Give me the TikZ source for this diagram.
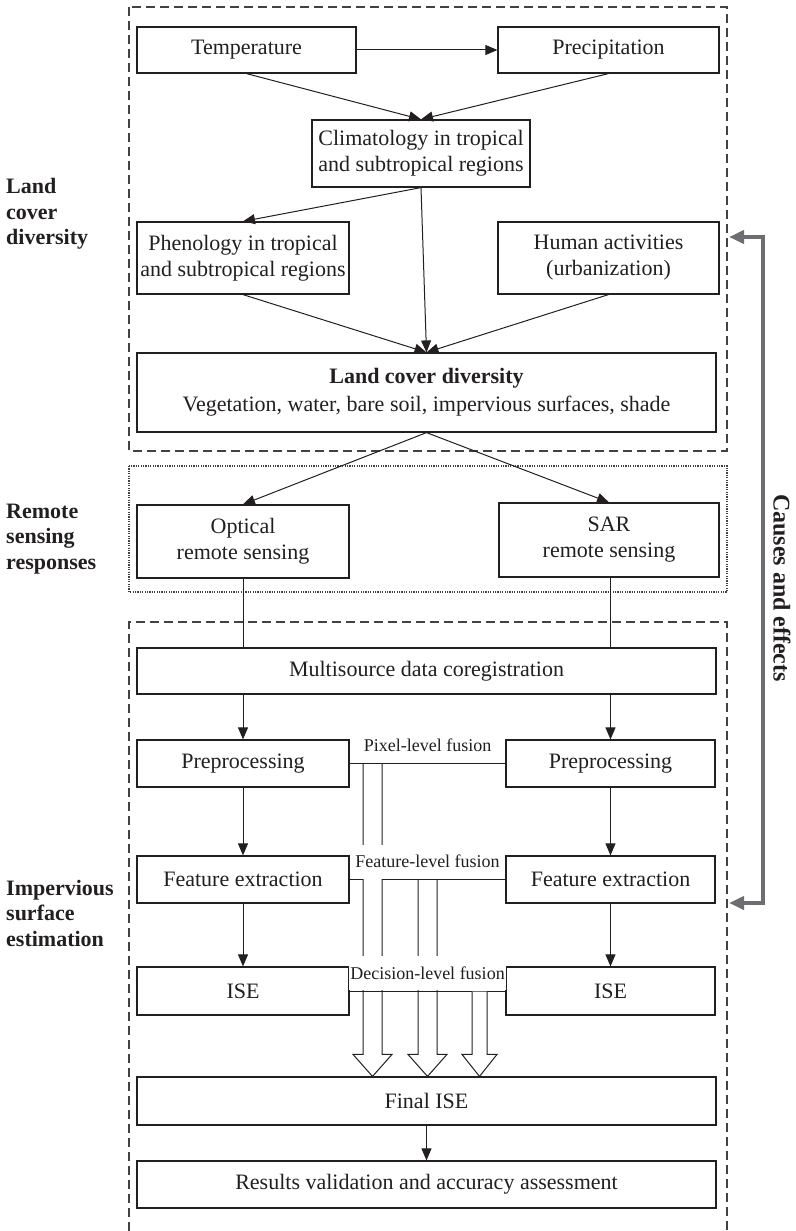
\documentclass[tikz,border=0pt]{standalone}
\usepackage{fontspec}
\setmainfont{Liberation Serif}
\usetikzlibrary{arrows.meta,calc}
\definecolor{ink}{HTML}{231F20}
\definecolor{causegray}{HTML}{6D6E71}

% Open block arrow from a fusion level down to the final estimate
% #1 column coordinate, #2 fusion-line anchor, #3 shaft half width, #4 head half width
\newcommand{\fusionpipe}[4]{%
  \coordinate (pipeStart) at (#1 |- #2);
  \coordinate (pipeEnd) at (#1 |- final.north);
  \filldraw[pipe] ([xshift=-#3pt,yshift=-0.6pt]pipeStart)
    -- ([xshift=-#3pt,yshift=22pt]pipeEnd) -- ([xshift=-#4pt,yshift=22pt]pipeEnd)
    -- (pipeEnd)
    -- ([xshift=#4pt,yshift=22pt]pipeEnd) -- ([xshift=#3pt,yshift=22pt]pipeEnd)
    -- ([xshift=#3pt,yshift=-0.6pt]pipeStart);
}

\begin{document}
\begin{tikzpicture}[x=1pt,y=-1pt,
  box/.style={draw=ink, line width=1.2pt, rectangle, inner sep=0pt, align=center,
    fill=white, text=ink, font=\fontsize{22}{26}\selectfont},
  arr/.style={draw=ink, line width=1pt, -{Triangle[length=12pt,width=10pt]}},
  plain/.style={draw=ink, line width=1pt},
  pipe/.style={draw=ink, fill=white, line width=1pt, line join=miter},
  fuselabel/.style={fill=white, inner xsep=1pt, inner ysep=0pt, minimum height=34pt,
    text=ink, font=\fontsize{18}{20}\selectfont, anchor=south},
  sidelabel/.style={anchor=west, align=left, inner sep=0pt, text=ink,
    font=\bfseries\fontsize{22}{25.5}\selectfont},
  groupdash/.style={draw=ink!85, line width=1.1pt, dash pattern=on 9pt off 5pt},
  groupdot/.style={draw=ink!85, line width=1.2pt, dash pattern=on 1.2pt off 1.2pt},
  causes/.style={draw=causegray, line width=4pt,
    {Triangle[length=15pt,width=13pt]}-{Triangle[length=15pt,width=13pt]}}
]
\useasboundingbox (0,0) rectangle (795,1231);

% group frames
\draw[groupdash] (129,7) rectangle (727,451);
\draw[groupdot] (129,466) rectangle (727,592);
\draw[groupdash] (129,1231) -- (129,622) -- (727,622) -- (727,1231);

% group titles
\node[sidelabel] (titleLand) at (6,214) {Land\\cover\\diversity};
\node[sidelabel] (titleRS) at (6,539) {Remote\\sensing\\responses};
\node[sidelabel] (titleISE) at (6,913) {Impervious\\surface\\estimation};

% land cover drivers
\node[box, minimum width=219pt, minimum height=46pt] (temp) at (246.5,50) {Temperature};
\node[box, minimum width=221pt, minimum height=46pt] (prec) at (608.5,50) {Precipitation};
\node[box, minimum width=218pt, minimum height=67pt] (clim) at (421,153.5)
  {Climatology in tropical\\and subtropical regions};
\node[box, minimum width=212pt, minimum height=72pt] (phen) at (243,258)
  {Phenology in tropical\\and subtropical regions};
\node[box, minimum width=221pt, minimum height=72pt] (human) at (608.5,258)
  {Human activities\\(urbanization)};
\node[box, minimum width=579pt, minimum height=79pt] (land) at (426.5,392.5)
  {\textbf{Land cover diversity}\\[2pt]Vegetation, water, bare soil, impervious surfaces, shade};

% sensors
\node[box, minimum width=212pt, minimum height=73pt] (opt) at (243,541.5)
  {Optical\\remote sensing};
\node[box, minimum width=220pt, minimum height=74pt] (sar) at (609,540)
  {SAR\\remote sensing};

% processing chain
\node[box, minimum width=579pt, minimum height=46pt] (multi) at (426.5,671)
  {Multisource data coregistration};
\node[box, minimum width=212pt, minimum height=47pt] (preL) at (243,763.5) {Preprocessing};
\node[box, minimum width=209pt, minimum height=47pt] (preR) at (610.5,763.5) {Preprocessing};
\node[box, minimum width=212pt, minimum height=47pt] (featL) at (243,879.5) {Feature extraction};
\node[box, minimum width=209pt, minimum height=47pt] (featR) at (610.5,879.5) {Feature extraction};
\node[box, minimum width=212pt, minimum height=48pt] (iseL) at (243,991) {ISE};
\node[box, minimum width=209pt, minimum height=48pt] (iseR) at (610.5,991) {ISE};
\node[box, minimum width=579pt, minimum height=48pt] (final) at (426.5,1101) {Final ISE};
\node[box, minimum width=579pt, minimum height=47pt] (results) at (426.5,1184.5)
  {Results validation and accuracy assessment};

% connectors among drivers
\draw[arr] (temp.east) -- (prec.west);
\draw[arr] (temp.south) -- (clim.north);
\draw[arr] (prec.south) -- (clim.north);
\draw[arr] (clim.south) -- (phen.north);
\draw[arr] (clim.south) -- (land.north);
\draw[arr] (phen.south) -- (land.north);
\draw[arr] (human.south) -- (land.north);
\draw[arr] (land.south) -- (opt.north);
\draw[arr] (land.south) -- (sar.north);

% sensors into coregistration
\draw[plain] (opt.south) -- (opt.south |- multi.north);
\draw[plain] (sar.south -| preR.north) -- (preR.north |- multi.north);

% two parallel chains
\draw[arr] (preL.north |- multi.south) -- (preL.north);
\draw[arr] (preR.north |- multi.south) -- (preR.north);
\draw[arr] (preL.south) -- (featL.north);
\draw[arr] (preR.south) -- (featR.north);
\draw[arr] (featL.south) -- (iseL.north);
\draw[arr] (featR.south) -- (iseR.north);
\draw[arr] (final.south) -- (results.north);

% fusion levels
\coordinate (colA) at (372.5,0);
\coordinate (colB) at (427.5,0);
\coordinate (colC) at (479.5,0);
\draw[plain] (preL.east) -- (preR.west);
\draw[plain] (featL.east) -- (featR.west);
\fusionpipe{colA}{preL.east}{9.5}{19.5}
\fusionpipe{colB}{featL.east}{9.5}{19.5}
\draw[plain] (iseL.east) -- (iseR.west);
\fusionpipe{colC}{iseL.east}{7.5}{17.5}

\node[fuselabel] (lblPix) at ([yshift=0.8pt]$(preL.east)!0.5!(preR.west)$) {Pixel-level fusion};
\node[fuselabel] (lblFeat) at ([yshift=0.8pt]$(featL.east)!0.5!(featR.west)$) {Feature-level fusion};
\node[fuselabel] (lblDec) at ([yshift=0.8pt]$(iseL.east)!0.5!(iseR.west)$) {Decision-level fusion};

% feedback between the groups
\coordinate (ceTop) at (729,237);
\coordinate (ceBottom) at (729,903);
\coordinate (ceRail) at (763,0);
\draw[causes] (ceTop) -- (ceTop -| ceRail) -- (ceBottom -| ceRail) -- (ceBottom);
\node[rotate=-90, text=ink, inner sep=0pt, font=\bfseries\fontsize{24}{28}\selectfont]
  (ceText) at (782,588) {Causes and effects};

\end{tikzpicture}
\end{document}
